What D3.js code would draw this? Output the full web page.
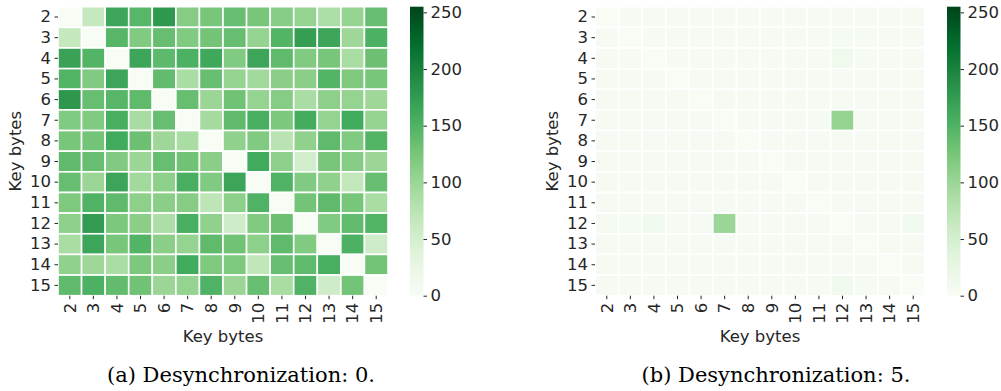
<!DOCTYPE html>
<html>
<head>
<meta charset="utf-8">
<script src="https://cdn.jsdelivr.net/npm/d3@7"></script>
<style>
  body { margin: 0; background: #fff; }
  svg text { font-family: "DejaVu Sans", sans-serif; fill: #262626; }
  .caption { font-family: "DejaVu Serif", serif; fill: #000; }
</style>
</head>
<body>
<svg id="chart" width="1001" height="391"></svg>
<script>
const keyBytes = ['2', '3', '4', '5', '6', '7', '8', '9', '10', '11', '12', '13', '14', '15'];
const colorTicks = [0, 50, 100, 150, 200, 250];
const vmax = 255;

// desync 0: rows are y key byte, columns are x key byte
const desync0 = [
  [0, 65, 165, 145, 178, 115, 125, 135, 125, 115, 105, 85, 105, 135],
  [65, 0, 145, 118, 135, 118, 128, 135, 105, 148, 172, 165, 98, 152],
  [168, 148, 0, 165, 142, 152, 162, 118, 165, 140, 118, 125, 88, 132],
  [148, 118, 165, 0, 138, 88, 135, 105, 95, 112, 112, 148, 120, 125],
  [180, 135, 145, 140, 0, 135, 100, 130, 105, 115, 88, 110, 105, 98],
  [118, 118, 155, 90, 135, 0, 92, 140, 155, 122, 158, 105, 160, 105],
  [125, 128, 160, 132, 98, 88, 0, 108, 118, 75, 108, 140, 118, 148],
  [140, 135, 118, 100, 135, 130, 112, 0, 160, 110, 52, 125, 115, 100],
  [135, 100, 165, 95, 110, 155, 118, 165, 0, 150, 118, 108, 68, 135],
  [120, 150, 140, 110, 112, 115, 72, 110, 150, 0, 128, 140, 125, 88],
  [110, 175, 122, 112, 85, 155, 108, 55, 118, 132, 0, 118, 138, 148],
  [88, 165, 125, 148, 112, 105, 140, 130, 110, 140, 118, 0, 152, 55],
  [108, 98, 88, 122, 112, 160, 120, 120, 70, 135, 140, 155, 0, 128],
  [140, 152, 138, 130, 100, 105, 150, 100, 135, 88, 150, 55, 128, 0]
];

// desync 5
const desync5 = [
  [0, 3, 3, 3, 3, 3, 3, 3, 3, 3, 4, 3, 3, 3],
  [3, 0, 3, 3, 3, 3, 3, 3, 3, 3, 5, 3, 3, 3],
  [3, 3, 0, 3, 3, 3, 3, 3, 3, 3, 14, 3, 3, 3],
  [3, 3, 3, 0, 3, 3, 3, 3, 3, 3, 3, 3, 3, 3],
  [3, 3, 3, 3, 0, 3, 3, 3, 3, 3, 3, 3, 3, 3],
  [3, 3, 3, 3, 3, 0, 3, 3, 3, 3, 105, 3, 3, 3],
  [3, 3, 3, 3, 3, 3, 0, 3, 3, 3, 3, 3, 3, 3],
  [3, 3, 3, 3, 3, 3, 3, 0, 3, 3, 3, 3, 3, 3],
  [3, 3, 3, 3, 3, 3, 3, 3, 0, 3, 3, 3, 3, 3],
  [3, 3, 3, 3, 3, 3, 3, 3, 3, 0, 3, 3, 3, 3],
  [3, 5, 12, 3, 3, 100, 3, 3, 3, 3, 0, 3, 3, 10],
  [3, 3, 3, 3, 3, 3, 3, 3, 3, 3, 3, 0, 3, 3],
  [3, 3, 3, 3, 3, 3, 3, 3, 3, 3, 3, 3, 0, 3],
  [3, 3, 3, 3, 3, 3, 3, 3, 3, 3, 12, 3, 3, 0]
];

const captions = ['(a) Desynchronization: 0.', '(b) Desynchronization: 5.'];

// matplotlib "Greens" is a linear ramp through the 9 colorbrewer stops
const greens = d3.schemeGreens[9];
const color = d3.scaleLinear()
  .domain(greens.map((c, i) => i * vmax / 8))
  .range(greens)
  .clamp(true);

const svg = d3.select('#chart');
const defs = svg.append('defs');
const grad = defs.append('linearGradient')
  .attr('id', 'cbar-grad')
  .attr('x1', 0).attr('y1', 1).attr('x2', 0).attr('y2', 0);
d3.range(0, 1.0001, 0.05).forEach(t => {
  grad.append('stop')
    .attr('offset', (t * 100) + '%')
    .attr('stop-color', color(t * vmax));
});

const panels = [
  { data: desync0, x0: 58, cbx: 410, capX: 241 },
  { data: desync5, x0: 595, cbx: 947, capX: 776 }
];
const gTop = 6.7, gw = 330, gh = 289, cbw = 13.5;
const fs = '16.5px';

panels.forEach((p, pi) => {
  const g = svg.append('g');

  const x = d3.scaleBand().domain(keyBytes).range([p.x0, p.x0 + gw]);
  const y = d3.scaleBand().domain(keyBytes).range([gTop, gTop + gh]);

  const cells = [];
  p.data.forEach((row, ri) => {
    row.forEach((v, ci) => cells.push({ r: keyBytes[ri], c: keyBytes[ci], v: v }));
  });

  g.selectAll('rect.cell')
    .data(cells)
    .enter()
    .append('rect')
    .attr('class', 'cell')
    .attr('x', d => x(d.c))
    .attr('y', d => y(d.r))
    .attr('width', x.bandwidth())
    .attr('height', y.bandwidth())
    .attr('fill', d => color(d.v))
    .attr('stroke', '#fff')
    .attr('stroke-width', 1.6);

  // axes
  const xAxis = g.append('g')
    .attr('transform', `translate(0,${gTop + gh})`)
    .call(d3.axisBottom(x).tickSize(3.5).tickPadding(3.5));
  xAxis.select('.domain').remove();
  xAxis.selectAll('.tick line').attr('stroke', '#262626');
  xAxis.selectAll('.tick text')
    .attr('font-size', fs)
    .attr('fill', '#262626')
    .attr('text-anchor', 'end')
    .attr('dy', '0.35em')
    .attr('transform', 'translate(0,7) rotate(-90)')
    .attr('x', 0).attr('y', 0);

  const yAxis = g.append('g')
    .attr('transform', `translate(${p.x0},0)`)
    .call(d3.axisLeft(y).tickSize(3.5).tickPadding(3.5));
  yAxis.select('.domain').remove();
  yAxis.selectAll('.tick line').attr('stroke', '#262626');
  yAxis.selectAll('.tick text')
    .attr('font-size', fs)
    .attr('fill', '#262626');

  g.append('text')
    .attr('x', p.x0 + gw / 2)
    .attr('y', 342)
    .attr('text-anchor', 'middle')
    .attr('font-size', fs)
    .text('Key bytes');

  g.append('text')
    .attr('transform', `translate(${p.x0 - 37},${gTop + gh / 2}) rotate(-90)`)
    .attr('text-anchor', 'middle')
    .attr('font-size', fs)
    .text('Key bytes');

  // colorbar
  const cScale = d3.scaleLinear().domain([0, vmax]).range([gTop + gh, gTop]);
  g.append('rect')
    .attr('x', p.cbx)
    .attr('y', gTop)
    .attr('width', cbw)
    .attr('height', gh)
    .attr('fill', 'url(#cbar-grad)');
  const cAxis = g.append('g')
    .attr('transform', `translate(${p.cbx + cbw},0)`)
    .call(d3.axisRight(cScale).tickValues(colorTicks).tickSize(3.5).tickPadding(3.5));
  cAxis.select('.domain').remove();
  cAxis.selectAll('.tick line').attr('stroke', '#262626');
  cAxis.selectAll('.tick text')
    .attr('font-size', fs)
    .attr('fill', '#262626');

  g.append('text')
    .attr('class', 'caption')
    .attr('x', p.capX)
    .attr('y', 382)
    .attr('text-anchor', 'middle')
    .attr('font-size', '21px')
    .text(captions[pi]);
});
</script>
</body>
</html>
